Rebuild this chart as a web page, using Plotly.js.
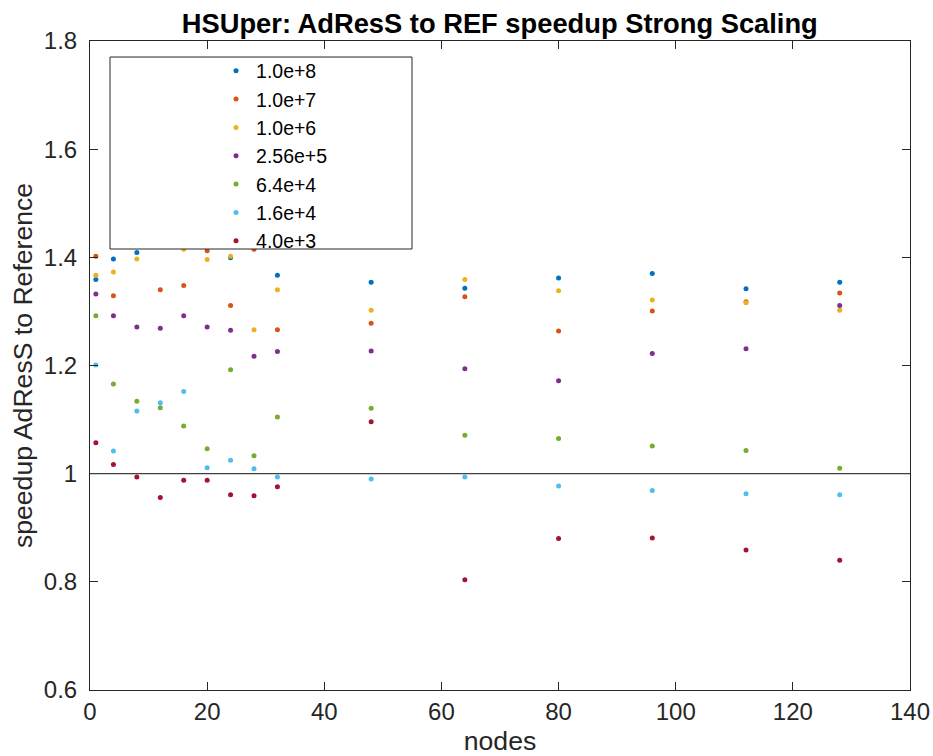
<!DOCTYPE html>
<html>
<head>
<meta charset="utf-8">
<script src="https://cdn.plot.ly/plotly-3.0.1.min.js"></script>
<style>
  html, body { margin: 0; padding: 0; background: #ffffff; }
  #chart { width: 933px; height: 756px; }
</style>
</head>
<body>
<div id="chart"></div>
<script>
// Node counts used for every problem size
var nodes = [1, 4, 8, 12, 16, 20, 24, 28, 32, 48, 64, 80, 96, 112, 128];

// Speedup of AdResS relative to the reference run, one array per problem size
var speedup_1e8   = [1.359, 1.397, 1.409, 1.440, 1.450, 1.440, 1.399, 1.430, 1.367, 1.354, 1.343, 1.362, 1.370, 1.342, 1.354];
var speedup_1e7   = [1.402, 1.329, 1.430, 1.340, 1.348, 1.412, 1.311, 1.415, 1.266, 1.278, 1.327, 1.264, 1.301, 1.318, 1.334];
var speedup_1e6   = [1.367, 1.373, 1.397, 1.430, 1.415, 1.396, 1.402, 1.266, 1.340, 1.302, 1.359, 1.338, 1.321, 1.316, 1.302];
var speedup_256e3 = [1.332, 1.292, 1.271, 1.269, 1.292, 1.271, 1.265, 1.217, 1.226, 1.227, 1.194, 1.172, 1.222, 1.231, 1.311];
var speedup_64e3  = [1.292, 1.166, 1.134, 1.122, 1.088, 1.046, 1.192, 1.033, 1.105, 1.121, 1.071, 1.065, 1.051, 1.043, 1.010];
var speedup_16e3  = [1.201, 1.042, 1.116, 1.131, 1.152, 1.011, 1.025, 1.009, 0.994, 0.990, 0.994, 0.977, 0.969, 0.963, 0.961];
var speedup_4e3   = [1.057, 1.017, 0.994, 0.956, 0.988, 0.988, 0.961, 0.959, 0.976, 1.096, 0.804, 0.880, 0.881, 0.859, 0.840];

var seriesNames = ['1.0e+8', '1.0e+7', '1.0e+6', '2.56e+5', '6.4e+4', '1.6e+4', '4.0e+3'];
var seriesValues = [speedup_1e8, speedup_1e7, speedup_1e6, speedup_256e3, speedup_64e3, speedup_16e3, speedup_4e3];
var seriesColors = ['#0072BD', '#D95319', '#EDB120', '#7E2F8E', '#77AC30', '#4DBEEE', '#A2142F'];

var axisColor = '#262626';
var fontFamily = '"Liberation Sans", Arial, sans-serif';

var traces = seriesValues.map(function (vals, i) {
  return {
    type: 'scatter',
    mode: 'markers',
    x: nodes,
    y: vals,
    name: seriesNames[i],
    marker: { color: seriesColors[i], size: 5, line: { width: 0 } },
    hoverinfo: 'x+y+name'
  };
});

var layout = {
  width: 933,
  height: 756,
  margin: { l: 90, r: 23, t: 41, b: 66, pad: 0 },
  paper_bgcolor: '#ffffff',
  plot_bgcolor: '#ffffff',
  font: { family: fontFamily, size: 24, color: axisColor },
  title: {
    text: '<b>HSUper: AdResS to REF speedup Strong Scaling</b>',
    font: { family: fontFamily, size: 27.3, color: '#000000' },
    x: 0.5357, xanchor: 'center',
    y: 0.969, yanchor: 'middle'
  },
  xaxis: {
    range: [0, 140],
    tick0: 0, dtick: 20,
    showgrid: false, zeroline: false,
    showline: true, linecolor: axisColor, linewidth: 1, mirror: 'ticks',
    ticks: 'inside', ticklen: 8, tickcolor: axisColor, tickwidth: 1,
    tickfont: { family: fontFamily, size: 24, color: axisColor },
    title: { text: 'nodes', font: { family: fontFamily, size: 26.6, color: axisColor }, standoff: 15 },
    automargin: false
  },
  yaxis: {
    range: [0.6, 1.8],
    tick0: 0.6, dtick: 0.2,
    showgrid: false, zeroline: false,
    showline: true, linecolor: axisColor, linewidth: 1, mirror: 'ticks',
    ticks: 'inside', ticklen: 8, tickcolor: axisColor, tickwidth: 1,
    ticklabelstandoff: 7,
    tickfont: { family: fontFamily, size: 24, color: axisColor },
    title: { text: 'speedup AdResS to Reference', font: { family: fontFamily, size: 26.6, color: axisColor }, standoff: 3 },
    automargin: false
  },
  shapes: [
    // reference level: equal speed
    { type: 'line', xref: 'paper', yref: 'y', x0: 0, x1: 1, y0: 1, y1: 1,
      line: { color: '#404040', width: 1.3 }, layer: 'above' },
    // legend frame
    { type: 'rect', xref: 'paper', yref: 'paper', x0: 0.0244, x1: 0.3927, y0: 0.6795, y1: 0.9753,
      fillcolor: '#ffffff', line: { color: axisColor, width: 1 }, layer: 'above' }
  ],
  legend: {
    x: 0.1537, xanchor: 'left',
    y: 0.9838, yanchor: 'top',
    bgcolor: 'rgba(0,0,0,0)',
    borderwidth: 0,
    font: { family: fontFamily, size: 19.5, color: '#000000' },
    itemsizing: 'trace'
  },
  showlegend: true
};

Plotly.newPlot('chart', traces, layout, { displayModeBar: false, staticPlot: true });
</script>
</body>
</html>
